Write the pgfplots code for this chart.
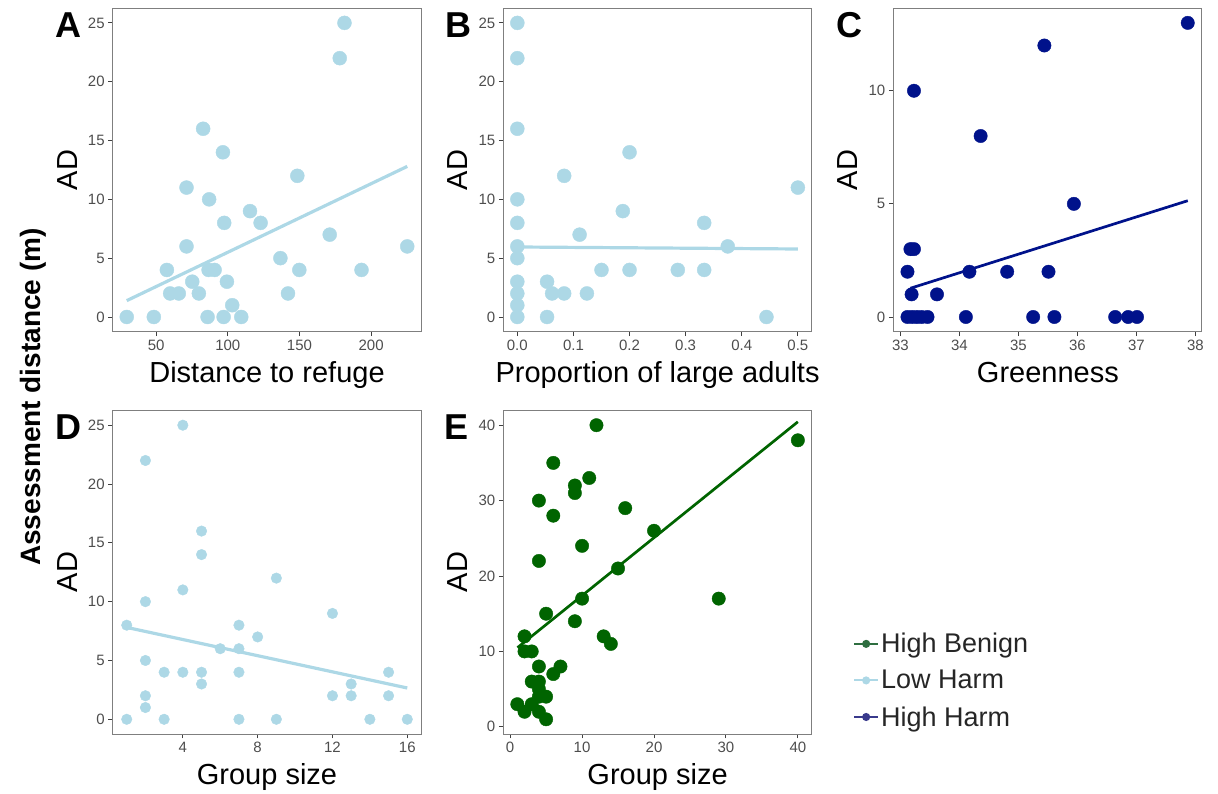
\documentclass[border=0pt]{standalone}
\usepackage{fontspec}
\setmainfont{Liberation Sans}
\usepackage{pgfplots}
\pgfplotsset{compat=1.18}
\definecolor{lb}{HTML}{ADD8E6}
\definecolor{db}{HTML}{00128B}
\definecolor{dg}{HTML}{006400}
\definecolor{legG}{HTML}{2E6E40}
\definecolor{legB}{HTML}{393A8C}
\definecolor{tickcol}{HTML}{4D4D4D}
\definecolor{framecol}{HTML}{7F7F7F}
\pgfplotsset{panel/.style={
  scale only axis, width=308.6pt, height=323.5pt, anchor=south west,
  axis line style={framecol, line width=0.9pt},
  tick align=outside, xtick pos=left, ytick pos=left,
  major tick length=4.5pt, tick style={black!75, line width=0.9pt},
  tick label style={font=\fontsize{15}{15}\selectfont, text=tickcol},
  /pgf/number format/assume math mode=true,
  scaled ticks=false,
  /pgf/number format/1000 sep={},
}}
\begin{document}
\begin{tikzpicture}
\path[use as bounding box] (0,0) rectangle (1218pt,794pt);
% Panel A
\begin{axis}[panel, at={(112.7pt,462.3pt)},
  xmin=19.7, xmax=235.0, ymin=-1.25, ymax=26.25,
  xtick={50,100,150,200}, ytick={0,5,10,15,20,25}]
\addplot[lb, only marks, mark=*, mark size=7pt, mark options={draw=none, fill=lb}] coordinates {
(29.5,0) (48.4,0) (57.5,4) (59.8,2) (65.8,2) (71.2,11) (71.2,6) (75.2,3) (79.8,2)
(82.8,16) (85.9,0) (87.0,10) (86.6,4) (90.8,4) (96.6,14) (97.5,8) (97.1,0) (99.4,3)
(103.1,1) (109.4,0) (115.5,9) (122.9,8) (136.7,5) (142.0,2) (148.5,12) (149.9,4)
(171.1,7) (178.1,22) (181.4,25) (193.3,4) (225.2,6)};
\addplot[lb, line width=3.2pt] coordinates {(29.5,1.39) (225.2,12.8)};
\end{axis}
% Panel B
\begin{axis}[panel, at={(503.3pt,462.3pt)},
  xmin=-0.025, xmax=0.525, ymin=-1.25, ymax=26.25,
  xtick={0,0.1,0.2,0.3,0.4,0.5}, ytick={0,5,10,15,20,25},
  xticklabel style={/pgf/number format/.cd, fixed, fixed zerofill, precision=1}]
\addplot[lb, only marks, mark=*, mark size=7pt, mark options={draw=none, fill=lb}] coordinates {
(0,25) (0,22) (0,16) (0,10) (0,8) (0,6) (0,5) (0,3) (0,2) (0,1) (0,0)
(0.053,3) (0.053,0) (0.062,2) (0.0835,12) (0.0835,2) (0.111,7) (0.124,2) (0.150,4)
(0.188,9) (0.200,14) (0.200,4) (0.286,4) (0.333,8) (0.333,4) (0.375,6) (0.444,0) (0.5,11)};
\addplot[lb, line width=3.2pt] coordinates {(0,5.95) (0.5,5.78)};
\end{axis}
% Panel C
\begin{axis}[panel, at={(893.3pt,462.3pt)},
  xmin=32.88, xmax=38.11, ymin=-0.65, ymax=13.65,
  xtick={33,34,35,36,37,38}, ytick={0,5,10}]
\addplot[db, only marks, mark=*, mark size=6.7pt, mark options={draw=none, fill=db}] coordinates {
(33.12,2) (33.17,3) (33.23,3) (33.23,10) (33.19,1)
(33.12,0) (33.20,0) (33.28,0) (33.36,0) (33.46,0)
(33.62,1) (34.11,0) (34.17,2) (34.36,8) (34.81,2) (35.25,0) (35.44,12) (35.51,2)
(35.61,0) (35.94,5) (36.64,0) (36.86,0) (37.01,0) (37.87,13)};
\addplot[db, line width=2.7pt] coordinates {(33.17,1.27) (37.87,5.14)};
\end{axis}
% Panel D
\begin{axis}[panel, at={(112.7pt,60pt)},
  xmin=0.25, xmax=16.75, ymin=-1.25, ymax=26.25,
  xtick={4,8,12,16}, ytick={0,5,10,15,20,25}]
\addplot[lb, only marks, mark=*, mark size=5.3pt, mark options={draw=none, fill=lb}] coordinates {
(1,8) (1,0) (2,22) (2,10) (2,5) (2,2) (2,1) (3,4) (3,0) (4,25) (4,11) (4,4)
(5,16) (5,14) (5,4) (5,3) (6,6) (7,8) (7,6) (7,4) (7,0) (8,7) (9,12) (9,0)
(12,9) (12,2) (13,3) (13,2) (14,0) (15,4) (15,2) (16,0)};
\addplot[lb, line width=3.2pt] coordinates {(1,7.81) (16,2.66)};
\end{axis}
% Panel E
\begin{axis}[panel, at={(503.3pt,60pt)},
  xmin=-0.95, xmax=41.95, ymin=-0.95, ymax=41.95,
  xtick={0,10,20,30,40}, ytick={0,10,20,30,40},
  legend style={at={(1.133,0.318)}, anchor=north west, draw=none, fill=none,
    font=\fontsize{27}{27}\selectfont, text=black!85, row sep=12pt, inner sep=0pt},
  legend cell align=left,
  legend image code/.code={\draw[mark repeat=2, mark phase=2, #1] plot coordinates {(0pt,0pt) (12pt,0pt) (24pt,0pt)};}]
\addlegendimage{legG, line width=2pt, mark=*, mark size=3pt}
\addlegendimage{lb, line width=2pt, mark=*, mark size=3pt}
\addlegendimage{legB, line width=2pt, mark=*, mark size=3pt}
\addplot[dg, only marks, mark=*, mark size=6.7pt, mark options={draw=none, fill=dg}] coordinates {
(1,3) (2,2) (2,10) (2,12) (3,3) (3,6) (3,10) (4,2) (4,4) (4,5) (4,6) (4,8) (4,22) (4,30)
(5,1) (5,4) (5,15) (6,7) (6,28) (6,35) (7,8) (9,14) (9,31) (9,32) (10,17) (10,24)
(11,33) (12,40) (13,12) (14,11) (15,21) (16,29) (20,26) (29,17) (40,38)};
\addplot[dg, line width=2.7pt] coordinates {(1.02,10.5) (40,40.45)};
\legend{High Benign, Low Harm, High Harm}
\end{axis}
% Labels
\begin{scope}[every node/.style={inner sep=0pt}]
\node[anchor=base, font=\fontsize{36}{36}\selectfont\bfseries] at (68pt,756pt) {A};
\node[anchor=base, font=\fontsize{36}{36}\selectfont\bfseries] at (458pt,756pt) {B};
\node[anchor=base, font=\fontsize{36}{36}\selectfont\bfseries] at (849pt,756pt) {C};
\node[anchor=base, font=\fontsize{36}{36}\selectfont\bfseries] at (68pt,354pt) {D};
\node[anchor=base, font=\fontsize{36}{36}\selectfont\bfseries] at (457pt,354pt) {E};
\node[anchor=base, rotate=90, font=\fontsize{29}{29}\selectfont] at (77pt,624pt) {AD};
\node[anchor=base, rotate=90, font=\fontsize{29}{29}\selectfont] at (467pt,624pt) {AD};
\node[anchor=base, rotate=90, font=\fontsize{29}{29}\selectfont] at (857pt,624pt) {AD};
\node[anchor=base, rotate=90, font=\fontsize{29}{29}\selectfont] at (77pt,222pt) {AD};
\node[anchor=base, rotate=90, font=\fontsize{29}{29}\selectfont] at (467pt,222pt) {AD};
\node[anchor=base, font=\fontsize{29}{29}\selectfont] at (267pt,411pt) {Distance to refuge};
\node[anchor=base, font=\fontsize{29}{29}\selectfont] at (657.6pt,411pt) {Proportion of large adults};
\node[anchor=base, font=\fontsize{29}{29}\selectfont] at (1047.9pt,411pt) {Greenness};
\node[anchor=base, font=\fontsize{29}{29}\selectfont] at (267pt,9pt) {Group size};
\node[anchor=base, font=\fontsize{29}{29}\selectfont] at (657.6pt,9pt) {Group size};
\node[anchor=base, rotate=90, font=\fontsize{28}{28}\selectfont\bfseries] at (40pt,397pt) {Assessment distance (m)};
\end{scope}
\end{tikzpicture}
\end{document}
